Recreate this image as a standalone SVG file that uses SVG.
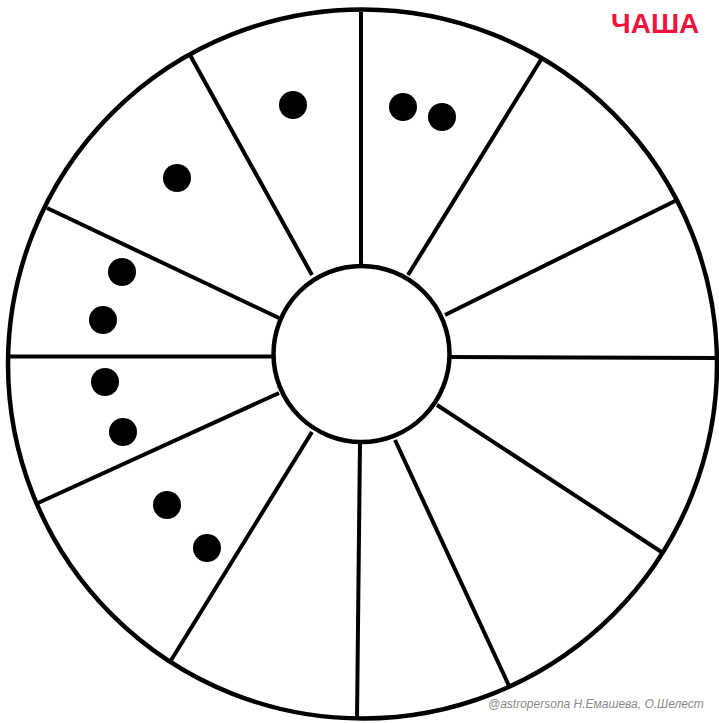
<svg xmlns="http://www.w3.org/2000/svg" width="719" height="723" viewBox="0 0 719 723">
<style>
.ln{stroke:#000;stroke-width:4;fill:none;stroke-linecap:butt}
.ring{stroke:#000;stroke-width:4.5;fill:#fff}
.dot{fill:#000}
.title{font-family:"Liberation Sans",Arial,sans-serif;font-weight:bold;font-size:28px;fill:#f0143c}
.credit{font-family:"Liberation Sans",Arial,sans-serif;font-style:italic;font-size:12px;fill:#8a8a8a}
</style>
<rect width="719" height="723" fill="#fff"/>
<g id="outer-circle"><circle class="ring" cx="362.5" cy="364" r="354.5"/></g>
<g id="connectors">
<line class="ln" x1="361" y1="12" x2="361" y2="266"/>
<line class="ln" x1="190" y1="55" x2="312" y2="275"/>
<line class="ln" x1="47" y1="208" x2="279" y2="318"/>
<line class="ln" x1="9" y1="356.5" x2="274" y2="356.5"/>
<line class="ln" x1="38" y1="503" x2="279" y2="393"/>
<line class="ln" x1="170" y1="662" x2="312" y2="432"/>
<line class="ln" x1="360" y1="442" x2="357" y2="719"/>
<line class="ln" x1="395" y1="440" x2="510" y2="688"/>
<line class="ln" x1="437" y1="405" x2="663" y2="553"/>
<line class="ln" x1="449" y1="357" x2="716" y2="358"/>
<line class="ln" x1="445" y1="315" x2="677" y2="200"/>
<line class="ln" x1="408" y1="275" x2="542" y2="58"/>
</g>
<g id="inner-circle"><circle class="ring" cx="361.5" cy="354" r="88"/></g>
<g id="dots">
<circle class="dot" cx="293" cy="105" r="14"/>
<circle class="dot" cx="177" cy="178" r="14"/>
<circle class="dot" cx="403" cy="107" r="14"/>
<circle class="dot" cx="442" cy="117" r="14"/>
<circle class="dot" cx="122" cy="272" r="14"/>
<circle class="dot" cx="103" cy="320" r="14"/>
<circle class="dot" cx="105" cy="382" r="14"/>
<circle class="dot" cx="123" cy="432" r="14"/>
<circle class="dot" cx="167" cy="505" r="14"/>
<circle class="dot" cx="207" cy="548" r="14"/>
</g>
<g id="title"><text class="title" x="611" y="33">ЧАША</text></g>
<g id="credit"><text class="credit" x="488" y="708">@astropersona Н.Емашева, О.Шелест</text></g>
</svg>
